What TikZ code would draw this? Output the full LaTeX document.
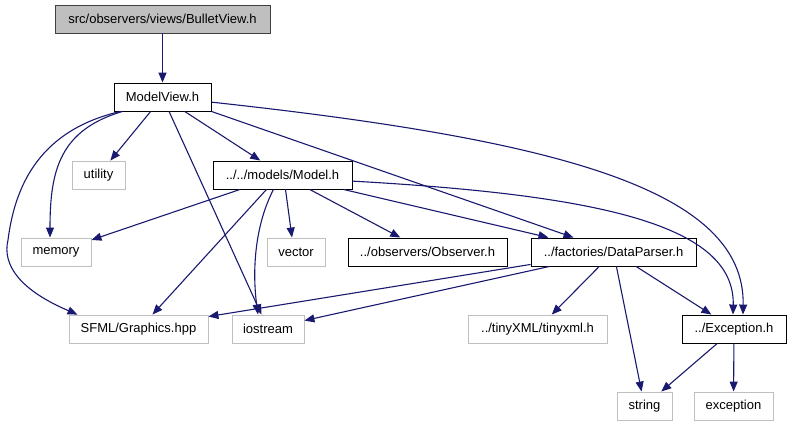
\documentclass[tikz,border=0pt]{standalone}
\usepackage{fontspec}
\setmainfont{Liberation Sans}
\usetikzlibrary{arrows.meta}

\definecolor{edgeblue}{HTML}{191970}
\definecolor{boxgray}{HTML}{BFBFBF}

\tikzset{
  filebox/.style={draw=black, line width=0.9pt, minimum height=28pt, inner sep=0pt,
    font=\fontsize{13}{15}\selectfont},
  sysbox/.style={filebox, draw=boxgray},
  rootbox/.style={filebox, fill=boxgray, draw=black!75},
  dep/.style={draw=edgeblue, line width=1.1pt, -{Triangle[length=10pt,width=8pt]}},
}

\begin{document}
\begin{tikzpicture}[x=1pt, y=-1pt]
    \useasboundingbox (0,0) rectangle (790,427);

    % files
    \node[rootbox, minimum width=215pt] (bv) at (162.5,19) {src/observers/views/BulletView.h};
    \node[filebox, minimum width=97pt] (mv) at (162.5,97) {ModelView.h};
    \node[sysbox, minimum width=53pt] (util) at (98.5,175) {utility};
    \node[filebox, minimum width=139pt] (model) at (282.5,175) {../../models/Model.h};
    \node[sysbox, minimum width=70pt] (mem) at (56,252) {memory};
    \node[sysbox, minimum width=58pt] (vec) at (296,252) {vector};
    \node[filebox, minimum width=159pt] (obs) at (427.5,252) {../observers/Observer.h};
    \node[filebox, minimum width=165pt] (dp) at (613.5,252) {../factories/DataParser.h};
    \node[sysbox, minimum width=139pt] (sfml) at (138.5,329) {SFML/Graphics.hpp};
    \node[sysbox, minimum width=72pt] (io) at (268,329) {iostream};
    \node[sysbox, minimum width=139pt] (tiny) at (537.5,329) {../tinyXML/tinyxml.h};
    \node[filebox, minimum width=104pt] (exc) at (734,329) {../Exception.h};
    \node[sysbox, minimum width=55pt] (str) at (644.5,406) {string};
    \node[sysbox, minimum width=79pt] (exn) at (733.5,406) {exception};

    % straight includes
    \foreach \a/\b in {bv/mv, mv/util, mv/model, mv/io, model/mem, model/obs,
                       dp/tiny, dp/str, dp/exc, exc/str, exc/exn} {
            \draw[dep] (\a) -- (\b);
        }

    % ModelView.h
    \draw[dep] ([xshift=-40]mv.south) .. controls (60,130) and (50,170) .. ([xshift=-6]mem.north);
    \draw[dep] ([xshift=-42]mv.south) .. controls (40,130) and (15,185) .. (8,240)
        .. controls (2,265) and (20,290) .. ([xshift=-61]sfml.north);
    \draw[dep] (mv.south east) -- ([xshift=-40]dp.north);
    \draw[dep] (mv.-6) .. controls (560,140) and (745,190) .. ([xshift=9]exc.north);

    % Model.h
    \draw[dep] ([xshift=-16]model.south) -- ([xshift=14]sfml.north);
    \draw[dep] ([xshift=-9]model.south) .. controls (255,225) and (252,270) .. ([xshift=-10]io.north);
    \draw[dep] ([xshift=3]model.south) -- ([xshift=-4]vec.north);
    \draw[dep] ([xshift=-9]model.south east) -- ([xshift=-65]dp.north);
    \draw[dep] (model.-5) .. controls (600,195) and (735,225) .. ([xshift=-1]exc.north);

    % DataParser.h
    \draw[dep] ([yshift=2]dp.south west) -- ([yshift=-2]sfml.north east);
    \draw[dep] ([xshift=19]dp.south west) -- ([yshift=-6]io.north east);
\end{tikzpicture}
\end{document}
